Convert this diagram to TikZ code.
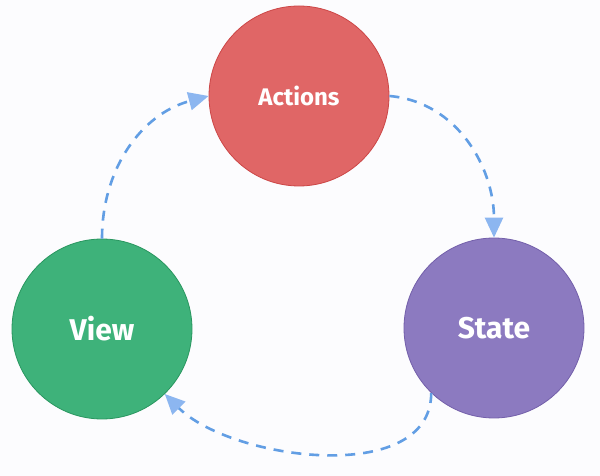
\documentclass[tikz,border=0pt]{standalone}
\usepackage{fontspec}
\setmainfont{Fira Sans}
\usetikzlibrary{arrows.meta}
\definecolor{bg}{RGB}{252,252,254}
\definecolor{redfill}{RGB}{224,102,102}
\definecolor{redline}{RGB}{204,70,70}
\definecolor{greenfill}{RGB}{62,178,122}
\definecolor{greenline}{RGB}{40,150,95}
\definecolor{purplefill}{RGB}{140,122,192}
\definecolor{purpleline}{RGB}{115,95,170}
\definecolor{flow}{RGB}{98,158,228}
\definecolor{tipcol}{RGB}{140,182,240}
\tikzset{
  state/.style={circle, minimum size=180pt, inner sep=0pt, line width=0.8pt,
    text=white, font=\fontsize{30}{34}\selectfont\bfseries},
  small/.style={font=\fontsize{24}{27}\selectfont\bfseries},
  flowline/.style={draw=flow, line width=2.6pt, dash pattern=on 10pt off 8pt,
    -{Triangle[length=20pt,width=18pt,fill=tipcol,color=tipcol]}}
}
\begin{document}
\begin{tikzpicture}[x=1pt,y=1pt]
\fill[bg] (0,0) rectangle (600,476);
\useasboundingbox (0,0) rectangle (600,476);
\node[state, small, fill=redfill, draw=redline] (actions) at (299,380) {Actions};
\node[state, fill=greenfill, draw=greenline] (view) at (102,147) {View};
\node[state, fill=purplefill, draw=purpleline] (state) at (494,148) {State};
\draw[flowline] (view.north) to[out=90, in=195] (actions.west);
\draw[flowline] (actions.east) to[out=-5, in=90] (state.north);
\draw[flowline] (state.-134) to[out=-90, in=-45, looseness=0.9] (view.-46);
\end{tikzpicture}
\end{document}
